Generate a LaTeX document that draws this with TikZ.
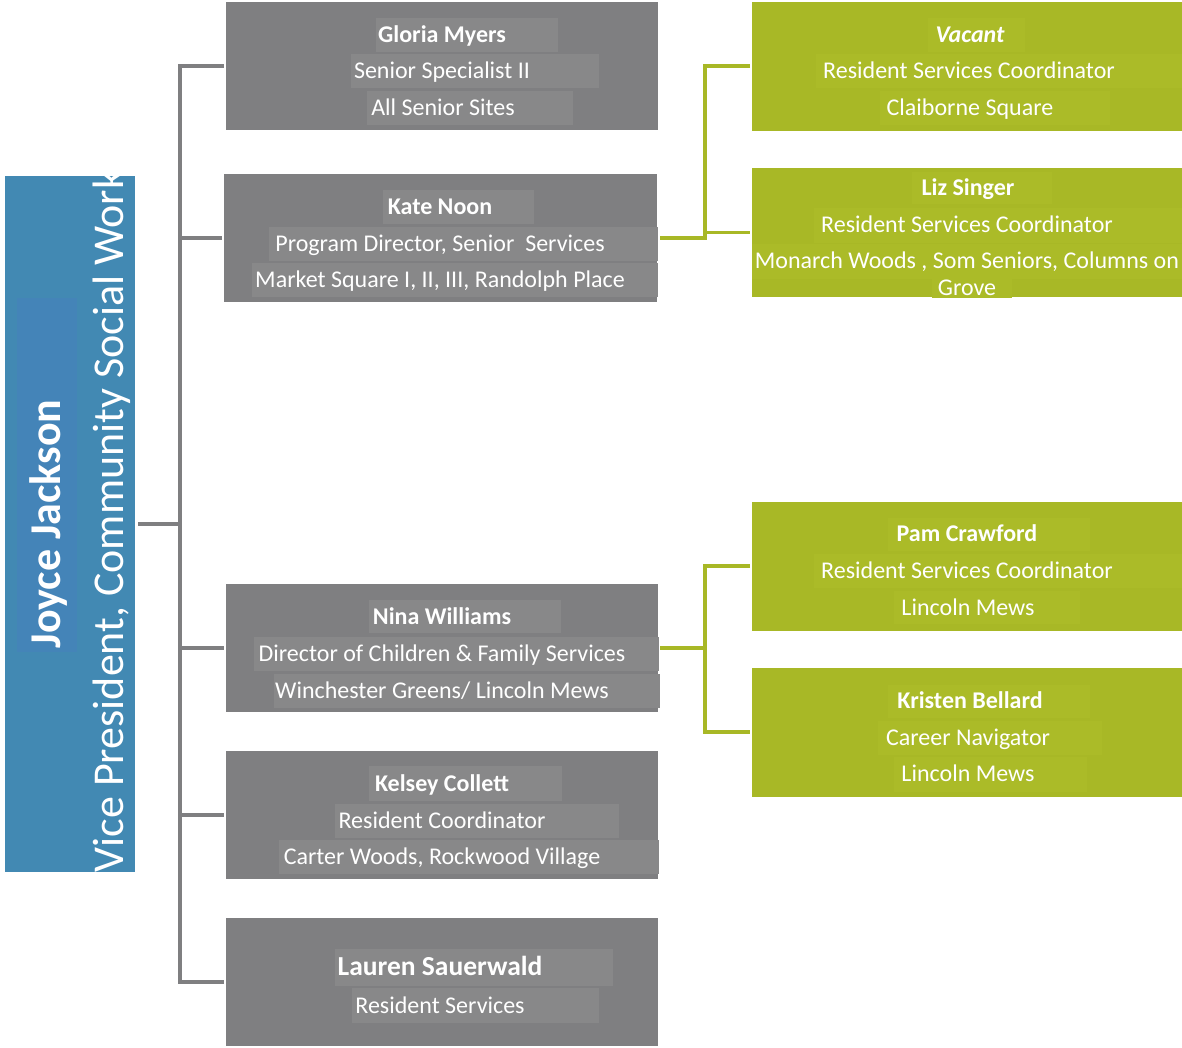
\documentclass[tikz,border=0pt]{standalone}
\usepackage{fontspec}
\setmainfont{Carlito}
\definecolor{boxgray}{RGB}{127,127,129}
\definecolor{hlgray}{RGB}{136,136,137}
\definecolor{linegray}{RGB}{127,127,129}
\definecolor{boxgreen}{RGB}{168,184,38}
\definecolor{hlgreen}{RGB}{171,187,40}
\definecolor{boxblue}{RGB}{66,137,179}
\definecolor{hlblue}{RGB}{68,132,184}
\tikzset{
  graybox/.style={fill=boxgray, minimum width=432pt, minimum height=128pt, inner sep=0pt},
  greenbox/.style={fill=boxgreen, minimum width=430pt, minimum height=129pt, inner sep=0pt},
  ln/.style={text=white, font=\fontsize{24}{28}\selectfont, inner sep=0pt, anchor=base},
  nm/.style={text=white, font=\fontsize{24}{28}\selectfont\bfseries, inner sep=0pt, anchor=base},
  gline/.style={draw=linegray, line width=3.6pt, line cap=rect},
  yline/.style={draw=boxgreen, line width=3.6pt, line cap=rect},
}
\begin{document}
\begin{tikzpicture}[x=1pt,y=-1pt]
\useasboundingbox (0,0) rectangle (1182,1047);
\fill[white] (0,0) rectangle (1182,1047);

% ---------- blue head box ----------
\node[fill=boxblue, minimum width=130pt, minimum height=696pt, inner sep=0pt] (vp) at (70,524) {};
\fill[hlblue] (17,298) rectangle (77,652);
\node[rotate=90, anchor=base, text=white, inner sep=0pt, font=\fontsize{44}{50}\selectfont\bfseries] (jj) at (60,524) {Joyce Jackson};
\node[rotate=90, anchor=base, text=white, inner sep=0pt, font=\fontsize{44}{50}\selectfont] (jt) at (123,521) {Vice President, Community Social Work};

% ---------- gray boxes ----------
\node[graybox] (b1) at (442,66) {};
\node[graybox, minimum width=433pt] (b2) at (440.5,238) {};
\node[graybox] (b3) at (442,648) {};
\node[graybox] (b4) at (442,815) {};
\node[graybox] (b5) at (442,982) {};

% ---------- green boxes ----------
\node[greenbox] (g1) at (967,66) {};
\node[greenbox] (g2) at (967,232.5) {};
\node[greenbox] (g3) at (967,566) {};
\node[greenbox] (g4) at (967,732) {};

% ---------- highlight strips ----------
\fill[hlgray] (376,18) rectangle (558,52);
\fill[hlgray] (351,54) rectangle (599,88);
\fill[hlgray] (367,91) rectangle (573,125);
\fill[hlgray] (383,190) rectangle (534,224);
\fill[hlgray] (269,227) rectangle (658,261);
\fill[hlgray] (252,263) rectangle (658,297);
\fill[hlgray] (369,600) rectangle (561,633);
\fill[hlgray] (254,637) rectangle (659,671);
\fill[hlgray] (274,674) rectangle (660,708);
\fill[hlgray] (369,766) rectangle (562,801);
\fill[hlgray] (335,804) rectangle (619,838);
\fill[hlgray] (279,840) rectangle (659,874);
\fill[hlgray] (335,949) rectangle (613,986);
\fill[hlgray] (352,988) rectangle (599,1023);

\fill[hlgreen] (928,18) rectangle (1025,52);
\fill[hlgreen] (816,54) rectangle (1182,88);
\fill[hlgreen] (880,91) rectangle (1110,125);
\fill[hlgreen] (912,172) rectangle (1052,204);
\fill[hlgreen] (814,208) rectangle (1182,243);
\fill[hlgreen] (752,244) rectangle (1182,279);
\fill[hlgreen] (932,279) rectangle (1012,298);
\fill[hlgreen] (888,518) rectangle (1090,551);
\fill[hlgreen] (814,554) rectangle (1182,588);
\fill[hlgreen] (894,591) rectangle (1080,624);
\fill[hlgreen] (888,685) rectangle (1090,718);
\fill[hlgreen] (878,721) rectangle (1102,755);
\fill[hlgreen] (894,757) rectangle (1087,792);

% ---------- gray box texts ----------
\node[nm] (b1n) at (442,42) {Gloria Myers};
\node[ln] (b1t) at (442,78) {Senior Specialist II};
\node[ln] (b1s) at (443,115) {All Senior Sites};

\node[nm] (b2n) at (440,214) {Kate Noon};
\node[ln] (b2t) at (440,251) {Program Director, Senior~ Services};
\node[ln] (b2s) at (440,287) {Market Square I, II, III, Randolph Place};

\node[nm] (b3n) at (442,624) {Nina Williams};
\node[ln] (b3t) at (442,661) {Director of Children \& Family Services};
\node[ln] (b3s) at (442,698) {Winchester Greens/ Lincoln Mews};

\node[nm] (b4n) at (442,791) {Kelsey Collett};
\node[ln] (b4t) at (442,828) {Resident Coordinator};
\node[ln] (b4s) at (442,864) {Carter Woods, Rockwood Village};

\node[nm, font=\fontsize{27.5}{32}\selectfont\bfseries] (b5n) at (440,975) {Lauren Sauerwald};
\node[ln] (b5t) at (440,1013) {Resident Services};

% ---------- green box texts ----------
\node[nm, font=\fontsize{24}{28}\selectfont\bfseries\itshape] (g1n) at (970,42) {Vacant};
\node[ln] (g1t) at (969,78) {Resident Services Coordinator};
\node[ln] (g1s) at (970,115) {Claiborne Square};

\node[nm] (g2n) at (968,195) {Liz Singer};
\node[ln] (g2t) at (967,232) {Resident Services Coordinator};
\node[ln] (g2s) at (967,268) {Monarch Woods , Som Seniors, Columns on};
\node[ln] (g2u) at (967,295) {Grove};

\node[nm] (g3n) at (967,541) {Pam Crawford};
\node[ln] (g3t) at (967,578) {Resident Services Coordinator};
\node[ln] (g3s) at (968,615) {Lincoln Mews};

\node[nm] (g4n) at (970,708) {Kristen Bellard};
\node[ln] (g4t) at (968,745) {Career Navigator};
\node[ln] (g4s) at (968,781) {Lincoln Mews};

% ---------- gray connectors ----------
\coordinate (tx) at (180,0);
\draw[gline] (b1.west -| tx) -- (b5.west -| tx);
\draw[gline] ([xshift=5pt]vp.east) -- (vp.east -| tx);
\draw[gline] (b1.west -| tx) -- ([xshift=-4pt]b1.west);
\draw[gline] (b2.west -| tx) -- ([xshift=-4pt]b2.west);
\draw[gline] (b3.west -| tx) -- ([xshift=-4pt]b3.west);
\draw[gline] (b4.west -| tx) -- ([xshift=-4pt]b4.west);
\draw[gline] (b5.west -| tx) -- ([xshift=-4pt]b5.west);

% ---------- green connectors ----------
\coordinate (gx) at (705,0);
\draw[yline] ([xshift=5pt]b2.east) -- (b2.east -| gx);
\draw[yline] (g1.west -| gx) -- (b2.east -| gx);
\draw[yline] (g1.west -| gx) -- ([xshift=-4pt]g1.west);
\draw[yline] (g2.west -| gx) -- ([xshift=-4pt]g2.west);

\draw[yline] ([xshift=4pt]b3.east) -- (b3.east -| gx);
\draw[yline] (g3.west -| gx) -- (g4.west -| gx);
\draw[yline] (g3.west -| gx) -- ([xshift=-4pt]g3.west);
\draw[yline] (g4.west -| gx) -- ([xshift=-4pt]g4.west);
\end{tikzpicture}
\end{document}
